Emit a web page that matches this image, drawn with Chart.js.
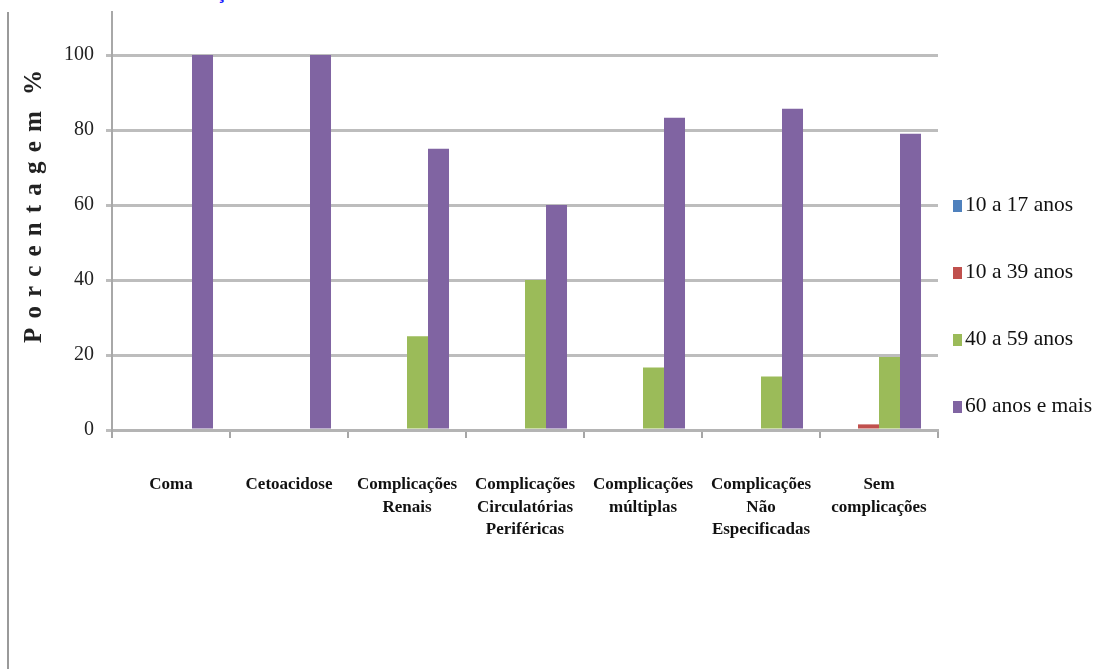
<!DOCTYPE html>
<html lang="pt">
<head>
<meta charset="utf-8">
<title>Complicações por faixa etária</title>
<script src="https://cdn.jsdelivr.net/npm/chart.js@4/dist/chart.umd.min.js"></script>
<style>
  html, body { margin: 0; padding: 0; background: #fff; overflow: hidden; }
  #wrap { position: relative; width: 1095px; height: 669px; }
  #frame { position: absolute; left: 7px; top: 12px; width: 2px; bottom: 0; background: #9a9a9a; }
  #head { position: absolute; left: 216px; top: -18px; font: bold 20px "Liberation Sans", sans-serif;
          line-height: 20px; color: #1a1aff; white-space: nowrap; }
  canvas { position: absolute; left: 0; top: 0; }
</style>
</head>
<body>
<div id="wrap">
  <div id="head">ção</div>
  <div id="frame"></div>
  <canvas id="chart" width="1095" height="669"></canvas>
</div>
<script>
// Categories of complication (x axis), multi-line labels as drawn
const categories = [
  'Coma',
  'Cetoacidose',
  ['Complicações', 'Renais'],
  ['Complicações', 'Circulatórias', 'Periféricas'],
  ['Complicações', 'múltiplas'],
  ['Complicações', 'Não', 'Especificadas'],
  ['Sem', 'complicações']
];

// Age groups
const seriesNames = ['10 a 17 anos', '10 a 39 anos', '40 a 59 anos', '60 anos e mais'];

// Percentages per age group, one value per category
const idade10a17 = [0, 0, 0, 0, 0, 0, 0];
const idade10a39 = [0, 0, 0, 0, 0, 0, 1.5];
const idade40a59 = [0, 0, 25, 40, 16.7, 14.3, 19.5];
const idade60mais = [100, 100, 75, 60, 83.3, 85.7, 79];

// Y axis range and tick step
const yMin = 0;
const yMax = 111.5;
const yStep = 20;

const yTitle = 'Porcentagem %';

const colors = ['#4f81bd', '#c0504d', '#9bbb59', '#8064a2'];
const seriesValues = [idade10a17, idade10a39, idade40a59, idade60mais];

const serif = '"Liberation Serif", "Times New Roman", serif';

// Rotated, letter-spaced y-axis title
const yTitlePlugin = {
  id: 'yTitle',
  afterDraw(chart) {
    const ctx = chart.ctx;
    ctx.save();
    ctx.font = 'bold 25px ' + serif;
    ctx.fillStyle = '#222';
    ctx.textBaseline = 'middle';
    ctx.textAlign = 'left';
    const span = 273;
    const chars = Array.from(yTitle);
    const widths = chars.map(c => (c === ' ' ? -2 : ctx.measureText(c).width));
    const glyphs = widths.reduce((a, b) => a + b, 0);
    const spacing = (span - glyphs) / (chars.length - 1);
    ctx.translate(35, 206.5);
    ctx.rotate(-Math.PI / 2);
    let x = -span / 2;
    chars.forEach((c, i) => {
      if (c !== ' ') ctx.fillText(c, x, 0);
      x += widths[i] + spacing;
    });
    ctx.restore();
  }
};

// Legend column to the right of the plot, one entry per age group
const sideLegendPlugin = {
  id: 'sideLegend',
  afterDraw(chart) {
    const ctx = chart.ctx;
    const area = chart.chartArea;
    const x0 = area.right + 15;
    const step = 67;
    const midY = 305.5;
    ctx.save();
    ctx.font = '21.5px ' + serif;
    ctx.textBaseline = 'middle';
    ctx.textAlign = 'left';
    chart.data.datasets.forEach((ds, i) => {
      const y = midY + (i - (chart.data.datasets.length - 1) / 2) * step;
      ctx.fillStyle = ds.backgroundColor;
      ctx.fillRect(x0, y - 5, 9, 12);
      ctx.fillStyle = '#111';
      ctx.fillText(ds.label, x0 + 12, y);
    });
    ctx.restore();
  }
};

new Chart(document.getElementById('chart'), {
  type: 'bar',
  data: {
    labels: categories,
    datasets: seriesNames.map((name, i) => ({
      label: name,
      data: seriesValues[i],
      backgroundColor: colors[i],
      borderWidth: 0,
      categoryPercentage: 0.712,
      barPercentage: 1
    }))
  },
  options: {
    responsive: false,
    animation: false,
    layout: { padding: { top: 12, bottom: 75, left: 0, right: 157 } },
    plugins: {
      legend: { display: false },
      tooltip: { enabled: false }
    },
    scales: {
      x: {
        offset: true,
        afterFit(scale) { scale.height = 164; },
        grid: {
          offset: true,
          drawOnChartArea: false,
          drawTicks: true,
          tickLength: 8,
          color: '#a6a6a6',
          lineWidth: 2
        },
        border: { color: '#b4b4b4', width: 3 },
        ticks: {
          autoSkip: false,
          maxRotation: 0,
          minRotation: 0,
          padding: 36,
          color: '#111',
          font: { family: serif, size: 17, weight: 'bold', lineHeight: 1.3 }
        }
      },
      y: {
        min: yMin,
        max: yMax,
        afterFit(scale) {
          scale.width = 112;
          scale.paddingTop = 0;
          scale.paddingBottom = 0;
        },
        grid: {
          color: '#bdbdbd',
          lineWidth: 3,
          drawTicks: true,
          tickLength: 6
        },
        border: { color: '#a8a8a8', width: 2 },
        ticks: {
          stepSize: yStep,
          includeBounds: false,
          padding: 12,
          color: '#222',
          font: { family: serif, size: 20 }
        }
      }
    }
  },
  plugins: [yTitlePlugin, sideLegendPlugin]
});
</script>
</body>
</html>
